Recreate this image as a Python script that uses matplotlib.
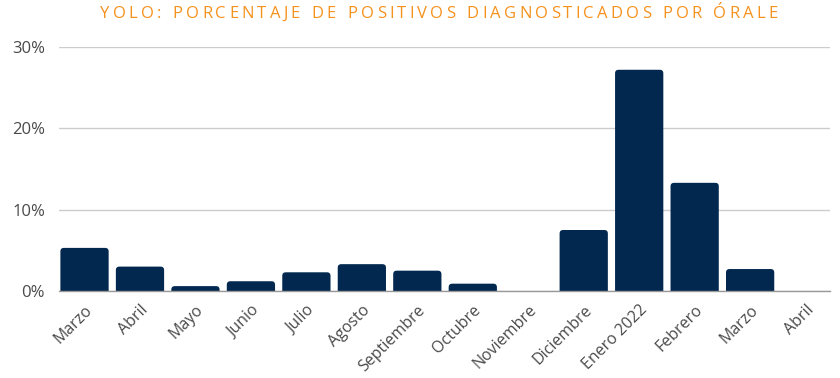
import numpy as np
import matplotlib
matplotlib.use("Agg")
import matplotlib.pyplot as plt
from matplotlib.patches import FancyBboxPatch
from matplotlib.ticker import FuncFormatter

meses = ["Marzo", "Abril", "Mayo", "Junio", "Julio", "Agosto", "Septiembre",
         "Octubre", "Noviembre", "Diciembre", "Enero 2022", "Febrero", "Marzo", "Abril"]
porcentaje = [5.3, 3.0, 0.6, 1.2, 2.3, 3.3, 2.5, 0.9, 0.0, 7.5, 27.2, 13.3, 2.7, 0.0]
yticks = [0, 10, 20, 30]
titulo = "YOLO: PORCENTAJE DE POSITIVOS DIAGNOSTICADOS POR ÓRALE"

navy = "#02284f"
orange = "#f5921e"
gray = "#4a4a4a"

plt.rcParams['font.family'] = ['Open Sans', 'DejaVu Sans']

fig = plt.figure(figsize=(8.4, 3.78), dpi=100)
ax = fig.add_axes([59/840, 1 - 291/378, (830-59)/840, (291-47)/378])

x = np.arange(len(meses))
bars = ax.bar(x, porcentaje, width=0.87, color=navy, linewidth=0, zorder=3)
ax.set_xlim(-0.46, len(meses) - 1 + 0.44)
ax.set_ylim(0, 30)

# esquinas redondeadas en la parte superior de las barras
fig.canvas.draw()
p0 = ax.transData.transform((0, 0))
p1 = ax.transData.transform((1, 1))
px_x = p1[0] - p0[0]
px_y = p1[1] - p0[1]
rad = 3.5 / px_x
aspect = px_x / px_y
for b in bars:
    h = b.get_height()
    if h <= 0:
        b.set_visible(False)
        continue
    ext = rad * aspect
    fb = FancyBboxPatch((b.get_x(), -ext), b.get_width(), h + ext,
                        boxstyle=f"round,pad=0,rounding_size={rad}",
                        mutation_aspect=aspect, facecolor=navy,
                        edgecolor="none", zorder=3)
    ax.add_patch(fb)
    b.set_visible(False)

ax.set_yticks(yticks)
ax.yaxis.set_major_formatter(FuncFormatter(lambda v, p: f"{v:.0f}%"))
ax.grid(axis="y", color="#cccccc", linewidth=1, zorder=0)
ax.set_axisbelow(True)
for s in ["top", "right", "left"]:
    ax.spines[s].set_visible(False)
ax.spines["bottom"].set_color("#999999")
ax.spines["bottom"].set_linewidth(1)
ax.spines["bottom"].set_zorder(4)

ax.set_xticks(x)
ax.set_xticklabels(meses, rotation=45, ha="right", rotation_mode="anchor",
                   fontsize=11.5, color=gray)
ax.tick_params(axis="x", length=0, pad=8)
ax.tick_params(axis="y", length=0, pad=10, labelsize=12, labelcolor=gray)

# titulo con espaciado entre letras
fig.canvas.draw()
r = fig.canvas.get_renderer()
spacing = 3.2
fs = 12
widths = []
for ch in titulo:
    t = fig.text(0, 0, ch if ch != " " else "a", fontsize=fs)
    w = t.get_window_extent(r).width
    if ch == " ":
        w *= 0.55
    widths.append(w)
    t.remove()
total = sum(widths) + spacing * (len(titulo) - 1)
cx = 439
xpos = cx - total / 2
for ch, w in zip(titulo, widths):
    if ch != " ":
        fig.text(xpos / 840, 1 - 14 / 378, ch, fontsize=fs, color=orange,
                 va="center", ha="left")
    xpos += w + spacing

fig.savefig("out.png", dpi=100)
